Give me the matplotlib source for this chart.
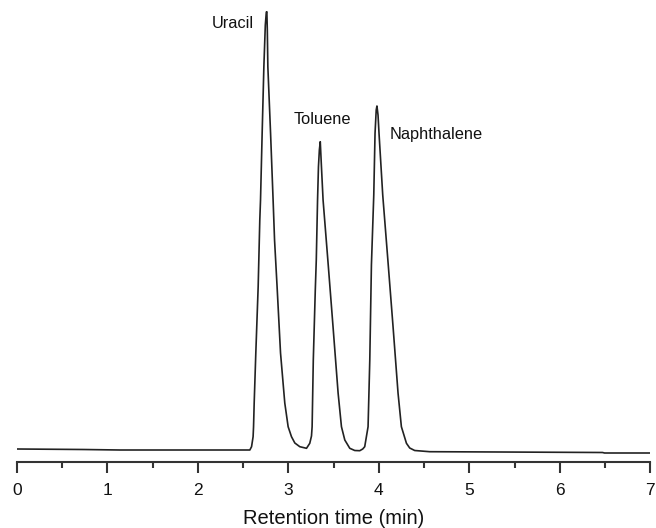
import matplotlib
matplotlib.use("Agg")
import matplotlib.pyplot as plt
from matplotlib.ticker import MultipleLocator

plt.rcParams['font.family'] = ['Liberation Sans', 'DejaVu Sans']

# Retention time (min) and detector signal (arbitrary units)
time_min = [
    0.000, 0.732, 1.140, 2.575,
    # Uracil
    2.594, 2.611, 2.616, 2.623, 2.641, 2.667, 2.685, 2.693, 2.711, 2.730, 2.746, 2.757, 2.763,
    2.768, 2.774, 2.804, 2.832, 2.848, 2.876, 2.914, 2.961, 2.998, 3.035, 3.072, 3.127, 3.164, 3.201,
    # Toluene
    3.237, 3.256, 3.263, 3.276, 3.298, 3.309, 3.323, 3.333, 3.343, 3.353,
    3.366, 3.384, 3.441, 3.494, 3.550, 3.587, 3.624, 3.679, 3.734, 3.789,
    # Naphthalene
    3.822, 3.844, 3.881, 3.900, 3.918, 3.944, 3.958, 3.971, 3.979,
    3.991, 4.002, 4.043, 4.104, 4.157, 4.212, 4.249, 4.305, 4.341, 4.396, 4.562,
    # baseline
    5.334, 6.471, 6.493, 7.000,
]
signal = [
    13.0, 12.5, 12.0, 12.0,
    15.3, 25.3, 35.3, 59.0, 109.0, 175.3, 242.0, 262.0, 328.7, 395.3, 437.0, 450.0, 450.3,
    432.0, 395.3, 328.7, 262.0, 222.0, 175.3, 109.0, 59.0, 35.3, 25.3, 19.0, 15.3, 14.5, 13.7,
    18.7, 26.0, 35.3, 102.0, 172.0, 202.0, 262.0, 295.3, 312.0, 320.3,
    295.3, 262.0, 197.0, 135.3, 69.0, 35.3, 22.0, 13.7, 11.5, 11.3,
    13.0, 15.3, 35.3, 102.0, 197.0, 267.0, 328.7, 352.0, 356.0,
    347.0, 328.7, 267.0, 197.0, 135.3, 69.0, 35.3, 18.7, 14.0, 11.5, 10.3,
    10.0, 9.5, 9.0, 9.0,
]

peak_names = ["Uracil", "Toluene", "Naphthalene"]
label_x = [2.39, 3.381, 4.628]
label_y = [438.2, 343.0, 328.0]

fig = plt.figure(figsize=(6.56, 5.28), dpi=100)
ax = fig.add_axes([0.0255, 0.125, 0.966, 0.8655])

ax.plot(time_min, signal, color='#222222', lw=1.2)

for name, lx, ly in zip(peak_names, label_x, label_y):
    ax.text(lx, ly, name, ha='center', va='center', fontsize=11.8, color='#111111')

ax.set_xlim(0, 7)
ax.set_ylim(0, 457)

for s in ['left', 'right', 'top']:
    ax.spines[s].set_visible(False)
ax.spines['bottom'].set_linewidth(1.5)
ax.spines['bottom'].set_color('#333333')
ax.set_yticks([])

ax.xaxis.set_major_locator(MultipleLocator(1))
ax.xaxis.set_minor_locator(MultipleLocator(0.5))
ax.tick_params(axis='x', which='major', direction='out', length=8, width=1.5,
               color='#333333', labelsize=12.5, pad=7, labelcolor='#111111')
ax.tick_params(axis='x', which='minor', direction='out', length=4.3, width=1.5,
               color='#333333')

ax.set_xlabel('Retention time (min)', fontsize=14.5, labelpad=8, color='#111111')

fig.savefig('out.png', dpi=100)
